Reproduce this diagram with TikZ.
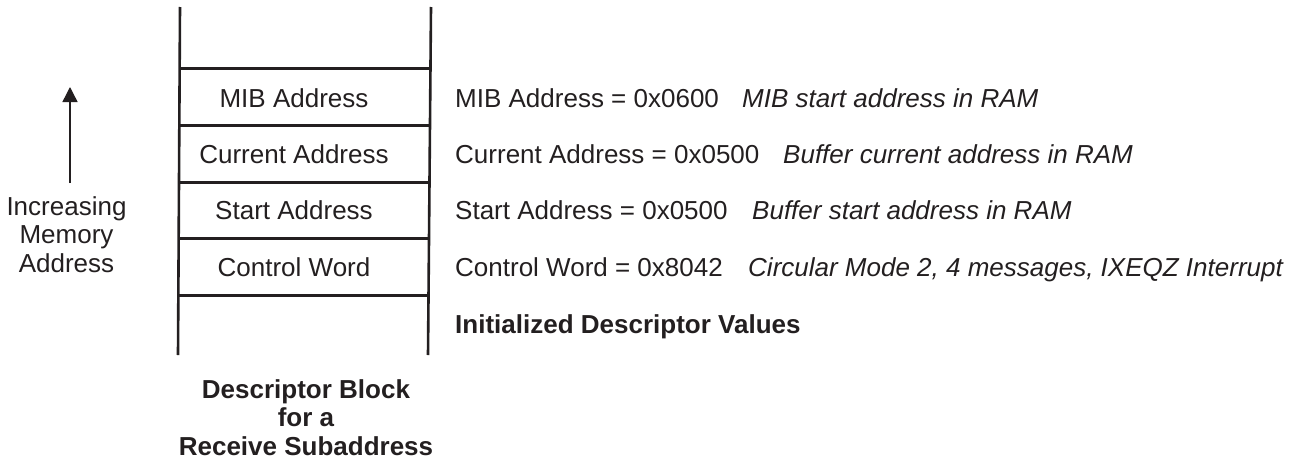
\documentclass[tikz,border=0pt]{standalone}
\usepackage{fontspec}
\setmainfont{Liberation Sans}
\usetikzlibrary{arrows.meta}
\definecolor{ink}{HTML}{231F20}
\begin{document}
\begin{tikzpicture}[x=1pt,y=-1pt,
  txt/.style={inner sep=0pt,text=ink,font=\fontsize{26}{28.5}\selectfont},
  lbl/.style={txt,anchor=base},
  val/.style={txt,anchor=base west},
  note/.style={txt,anchor=base west,font=\fontsize{26}{28.5}\selectfont\itshape},
  wall/.style={draw=ink,line width=2.6pt},
  sep/.style={draw=ink,line width=3pt},
  uparrow/.style={draw=ink,line width=1.4pt,-{Triangle[length=15pt,width=15pt]}}]
\useasboundingbox (0,0) rectangle (1300,463);
% walls
\coordinate (lt) at (180,7);
\coordinate (lb) at (178,355);
\coordinate (rt) at (431,7);
\coordinate (rb) at (428,355);
\draw[wall] (lt) -- (lb);
\draw[wall] (rt) -- (rb);
% separators
\foreach \y/\n in {68/a,125/b,182/c,238/d,295/e}{
  \coordinate (sl\n) at (179.4,\y);
  \coordinate (sr\n) at (430.2,\y);
  \draw[sep] (sl\n) -- (sr\n);
}
% row labels
\node[lbl] (mib) at (294,107) {MIB Address};
\node[lbl] (cur) at (294,163) {Current Address};
\node[lbl] (sta) at (294,219) {Start Address};
\node[lbl] (ctl) at (294,276) {Control Word};
% values
\node[val] (vmib) at (455,107) {MIB Address = 0x0600};
\node[note] (nmib) at (742,107) {MIB start address in RAM};
\node[val] (vcur) at (455,163) {Current Address = 0x0500};
\node[note] (ncur) at (783,163) {Buffer current address in RAM};
\node[val] (vsta) at (455,219) {Start Address = 0x0500};
\node[note] (nsta) at (752,219) {Buffer start address in RAM};
\node[val] (vctl) at (455,276) {Control Word = 0x8042};
\node[note] (nctl) at (748,276) {Circular Mode 2, 4 messages, IXEQZ Interrupt};
\node[val,font=\fontsize{26}{28.5}\selectfont\bfseries] (init) at (455,333) {Initialized Descriptor Values};
% bottom caption (base = last line baseline)
\node[lbl,align=center,font=\fontsize{26}{28.5}\selectfont\bfseries] (cap) at (306,455) {Descriptor Block\\for a\\Receive Subaddress};
% arrow
\node[lbl,align=center] (inc) at (66.5,272) {Increasing\\Memory\\Address};
\coordinate (a0) at (70,183);
\coordinate (a1) at (70,87);
\draw[uparrow] (a0) -- (a1);
\end{tikzpicture}
\end{document}
